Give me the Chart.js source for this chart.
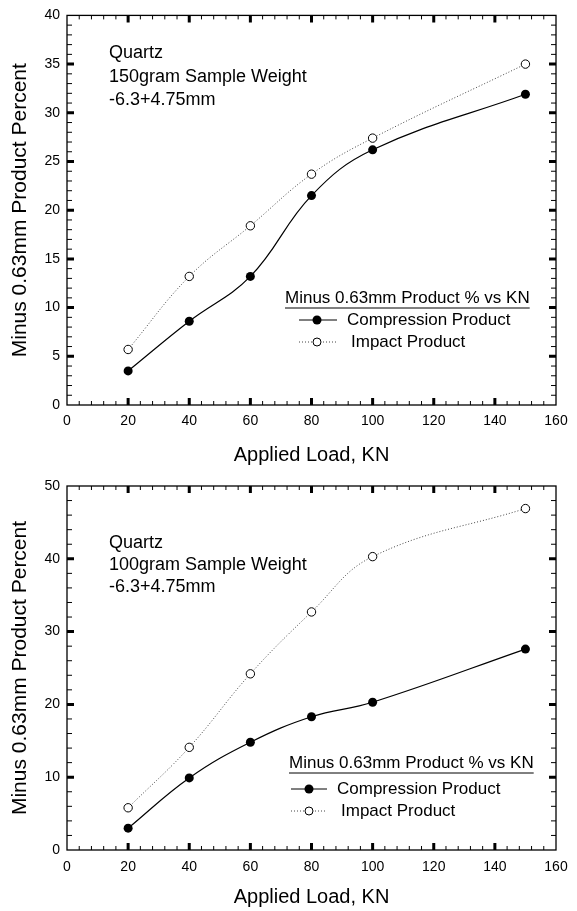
<!DOCTYPE html>
<html>
<head>
<meta charset="utf-8">
<script src="https://cdn.jsdelivr.net/npm/chart.js@4.4.1/dist/chart.umd.min.js"></script>
<style>
  html, body { margin:0; padding:0; background:#fff; }
  body { width:577px; height:911px; position:relative; overflow:hidden; }
  .box { position:absolute; left:0; width:577px; }
  canvas { display:block; }
</style>
</head>
<body>
<div class="box" style="top:0;height:470px"><canvas id="c1" width="577" height="470"></canvas></div>
<div class="box" style="top:470px;height:441px"><canvas id="c2" width="577" height="441"></canvas></div>
<script>
// ---- data ----
const loads = [20, 40, 60, 80, 100, 150];
const compression150 = [3.5, 8.6, 13.2, 21.5, 26.2, 31.9];
const impact150 = [5.7, 13.2, 18.4, 23.7, 27.4, 35.0];
const compression100 = [3.0, 9.9, 14.8, 18.3, 20.3, 27.6];
const impact100 = [5.8, 14.1, 24.2, 32.7, 40.3, 46.9];
const xTickLabels = [0, 20, 40, 60, 80, 100, 120, 140, 160];
const yTickLabels150 = [0, 5, 10, 15, 20, 25, 30, 35, 40];
const yTickLabels100 = [0, 10, 20, 30, 40, 50];
const seriesNames = ['Compression Product', 'Impact Product'];
const legendTitle = 'Minus 0.63mm Product % vs KN';
const note150 = ['Quartz', '150gram Sample Weight', '-6.3+4.75mm'];
const note100 = ['Quartz', '100gram Sample Weight', '-6.3+4.75mm'];
const xTitle = 'Applied Load, KN';
const yTitle = 'Minus 0.63mm Product Percent';

const FONT = "'Liberation Sans', Arial, Helvetica, sans-serif";
Chart.defaults.font.family = FONT;
Chart.defaults.color = '#000';

const frameTicks = {
  id: 'frameTicks',
  afterDraw(chart, args, o) {
    const { ctx, chartArea: a, scales: { x, y } } = chart;
    ctx.save();
    ctx.strokeStyle = '#000';
    ctx.lineCap = 'butt';
    const drawX = (v, major) => {
      const px = x.getPixelForValue(v);
      const len = major ? 7 : 4;
      ctx.lineWidth = major ? 3 : 1;
      ctx.beginPath();
      ctx.moveTo(px, a.bottom); ctx.lineTo(px, a.bottom - len);
      ctx.moveTo(px, a.top); ctx.lineTo(px, a.top + len);
      ctx.stroke();
    };
    const drawY = (v, major) => {
      const py = y.getPixelForValue(v);
      const len = major ? 7 : 5;
      ctx.lineWidth = major ? 3 : 1;
      ctx.beginPath();
      ctx.moveTo(a.left, py); ctx.lineTo(a.left + len, py);
      ctx.moveTo(a.right, py); ctx.lineTo(a.right - len, py);
      ctx.stroke();
    };
    const nx = Math.round((x.max - x.min) / o.xMinor);
    for (let i = 1; i < nx; i++) {
      const v = x.min + i * o.xMinor;
      drawX(v, Math.abs(v / o.xMajor - Math.round(v / o.xMajor)) < 1e-6);
    }
    const ny = Math.round((y.max - y.min) / o.yMinor);
    for (let i = 1; i < ny; i++) {
      const v = y.min + i * o.yMinor;
      drawY(v, Math.abs(v / o.yMajor - Math.round(v / o.yMajor)) < 1e-6);
    }
    ctx.lineWidth = 1.3;
    ctx.strokeRect(a.left, a.top, a.right - a.left, a.bottom - a.top);

    // annotation text
    ctx.fillStyle = '#000';
    ctx.textBaseline = 'middle';
    ctx.textAlign = 'left';
    ctx.font = '18px ' + FONT;
    o.note.forEach((t, i) => ctx.fillText(t, o.noteX, o.noteY[i]));

    // legend
    const L = o.legend;
    ctx.font = '17px ' + FONT;
    ctx.fillText(legendTitle, L.titleX, L.titleY);
    const w = ctx.measureText(legendTitle).width;
    ctx.lineWidth = 1;
    ctx.beginPath();
    ctx.moveTo(L.titleX, L.titleY + 10); ctx.lineTo(L.titleX + w, L.titleY + 10);
    ctx.stroke();
    // compression entry
    ctx.beginPath();
    ctx.moveTo(L.lineX1, L.row1); ctx.lineTo(L.lineX2, L.row1); ctx.stroke();
    ctx.beginPath(); ctx.arc(L.markX, L.row1, 4.5, 0, Math.PI * 2); ctx.fill();
    ctx.fillText(seriesNames[0], L.text1X, L.row1);
    // impact entry
    ctx.setLineDash([1, 2]);
    ctx.strokeStyle = '#444';
    ctx.beginPath();
    ctx.moveTo(L.lineX1, L.row2); ctx.lineTo(L.lineX2, L.row2); ctx.stroke();
    ctx.setLineDash([]);
    ctx.strokeStyle = '#000';
    ctx.fillStyle = '#fff';
    ctx.beginPath(); ctx.arc(L.markX, L.row2, 4, 0, Math.PI * 2); ctx.fill(); ctx.stroke();
    ctx.fillStyle = '#000';
    ctx.fillText(seriesNames[1], L.text2X, L.row2);
    ctx.restore();
  }
};

function makeChart(id, comp, imp, yTicks, cfg) {
  const ymax = yTicks[yTicks.length - 1];
  const ystep = yTicks[1] - yTicks[0];
  return new Chart(document.getElementById(id), {
    type: 'line',
    data: {
      datasets: [
        {
          label: seriesNames[0],
          data: loads.map((v, i) => ({ x: v, y: comp[i] })),
          borderColor: '#000', borderWidth: 1.2,
          backgroundColor: '#000',
          pointRadius: 4.5, pointBorderWidth: 0, pointBackgroundColor: '#000',
          tension: 0.4, fill: false
        },
        {
          label: seriesNames[1],
          data: loads.map((v, i) => ({ x: v, y: imp[i] })),
          borderColor: '#444', borderWidth: 1, borderDash: [1, 2],
          pointRadius: 4.2, pointBorderWidth: 1, pointBorderColor: '#000',
          pointBackgroundColor: '#fff',
          tension: 0.4, fill: false
        }
      ]
    },
    options: {
      responsive: false, animation: false, devicePixelRatio: 1,
      layout: { padding: { left: 0, right: 21, top: cfg.padTop, bottom: 0 } },
      plugins: {
        legend: { display: false }, tooltip: { enabled: false },
        frameTicks: {
          xMinor: 4, xMajor: 20, yMinor: cfg.yMinor, yMajor: ystep,
          note: cfg.note, noteX: 109, noteY: cfg.noteY, legend: cfg.legend
        }
      },
      scales: {
        x: {
          type: 'linear', min: 0, max: 160,
          afterBuildTicks: s => { s.ticks = xTickLabels.map(v => ({ value: v })); },
          afterFit: s => { s.height = cfg.xHeight; },
          grid: { display: false, drawTicks: false },
          border: { display: false },
          ticks: { padding: cfg.xTickPad, font: { size: 14 }, color: '#000', maxRotation: 0 },
          title: { display: true, text: xTitle, font: { size: 20 }, color: '#000', padding: { top: 0, bottom: cfg.xTitlePad } }
        },
        y: {
          type: 'linear', min: 0, max: ymax,
          afterBuildTicks: s => { s.ticks = yTicks.map(v => ({ value: v })); },
          afterFit: s => { s.width = 67; },
          grid: { display: false, drawTicks: false },
          border: { display: false },
          ticks: { padding: 7, font: { size: 14 }, color: '#000' },
          title: { display: true, text: yTitle, font: { size: 21 }, color: '#000', padding: { top: 8, bottom: 0 } }
        }
      }
    },
    plugins: [frameTicks]
  });
}

makeChart('c1', compression150, impact150, yTickLabels150, {
  padTop: 13, xHeight: 65, xTickPad: 8, xTitlePad: 3, yMinor: 1,
  note: note150, noteY: [53, 77, 100],
  legend: { titleX: 285, titleY: 298, row1: 320, row2: 342, lineX1: 299, lineX2: 337, markX: 317, text1X: 347, text2X: 351 }
});
makeChart('c2', compression100, impact100, yTickLabels100, {
  padTop: 16, xHeight: 61, xTickPad: 9, xTitlePad: 2, yMinor: 2,
  note: note100, noteY: [73, 95, 117],
  legend: { titleX: 289, titleY: 293, row1: 319, row2: 341, lineX1: 291, lineX2: 327, markX: 309, text1X: 337, text2X: 341 }
});
</script>
</body>
</html>
